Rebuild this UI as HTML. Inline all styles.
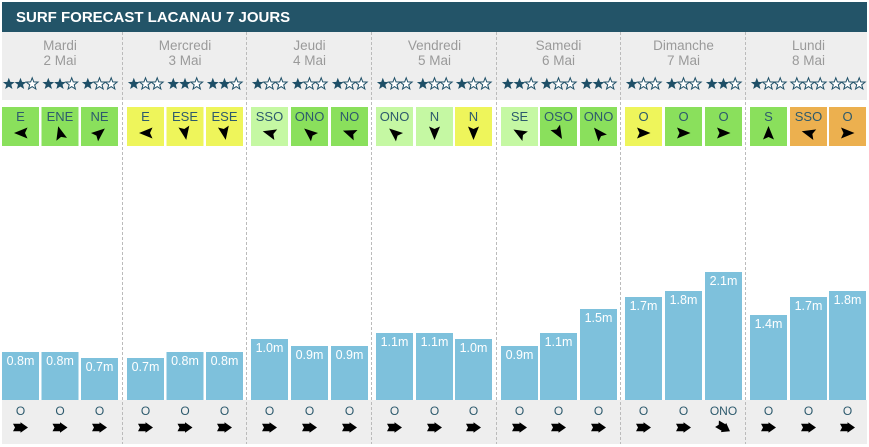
<!DOCTYPE html>
<html><head><meta charset="utf-8"><style>
html,body{margin:0;padding:0;background:#fff;}
svg{display:block;}
text{font-family:"Liberation Sans",Arial,sans-serif;}
</style></head><body>
<svg width="869" height="447" viewBox="0 0 869 447" xmlns="http://www.w3.org/2000/svg">
<defs>
<path id="st" d="M0,-6.2 L1.55,-2.1 L5.9,-1.9 L2.5,0.8 L3.65,5 L0,2.6 L-3.65,5 L-2.5,0.8 L-5.9,-1.9 L-1.55,-2.1 Z"/>
<path id="da" d="M7,0 L-6.5,-5.5 L-4,0 L-6.5,5.5 Z"/>
<path id="sa" d="M-7.5,-3.8 L0,-3.8 L0,-5.3 L7.5,0 L0,5.3 L0,3.8 L-7.5,3.8 L-5.5,0 Z"/>
<g id="f"><use href="#st" fill="#1e4f67"/></g>
<g id="e"><use href="#st" fill="#fff" stroke="#1e4f67" stroke-width="1"/></g>
</defs>
<!-- header -->
<rect x="2" y="2" width="865" height="30" fill="#235468"/>
<text x="16" y="22" font-size="15" font-weight="bold" fill="#fff">SURF FORECAST LACANAU 7 JOURS</text>
<!-- top gray band -->
<rect x="2" y="32" width="865" height="68" fill="#eeeeee"/>
<!-- bottom gray band -->
<rect x="2" y="400" width="865" height="44" fill="#eeeeee"/>

<!-- day names -->
<g font-size="13.5" fill="#9a9a9a" text-anchor="middle">
<text x="60" y="50">Mardi</text><text x="60" y="65">2 Mai</text>
<text x="185" y="50">Mercredi</text><text x="185" y="65">3 Mai</text>
<text x="309.5" y="50">Jeudi</text><text x="309.5" y="65">4 Mai</text>
<text x="434.5" y="50">Vendredi</text><text x="434.5" y="65">5 Mai</text>
<text x="558.5" y="50">Samedi</text><text x="558.5" y="65">6 Mai</text>
<text x="683.5" y="50">Dimanche</text><text x="683.5" y="65">7 Mai</text>
<text x="808.5" y="50">Lundi</text><text x="808.5" y="65">8 Mai</text>
</g>

<!-- stars -->
<g>
<use href="#f" x="8.8" y="84"/><use href="#f" x="20.5" y="84"/><use href="#e" x="32.2" y="84"/>
<use href="#f" x="48.3" y="84"/><use href="#f" x="60" y="84"/><use href="#e" x="71.7" y="84"/>
<use href="#f" x="87.8" y="84"/><use href="#e" x="99.5" y="84"/><use href="#e" x="111.2" y="84"/>
<use href="#f" x="133.8" y="84"/><use href="#e" x="145.5" y="84"/><use href="#e" x="157.2" y="84"/>
<use href="#f" x="173.3" y="84"/><use href="#f" x="185" y="84"/><use href="#e" x="196.7" y="84"/>
<use href="#f" x="212.8" y="84"/><use href="#f" x="224.5" y="84"/><use href="#e" x="236.2" y="84"/>
<use href="#f" x="257.8" y="84"/><use href="#e" x="269.5" y="84"/><use href="#e" x="281.2" y="84"/>
<use href="#f" x="297.8" y="84"/><use href="#e" x="309.5" y="84"/><use href="#e" x="321.2" y="84"/>
<use href="#f" x="337.8" y="84"/><use href="#e" x="349.5" y="84"/><use href="#e" x="361.2" y="84"/>
<use href="#f" x="382.8" y="84"/><use href="#e" x="394.5" y="84"/><use href="#e" x="406.2" y="84"/>
<use href="#f" x="422.8" y="84"/><use href="#e" x="434.5" y="84"/><use href="#e" x="446.2" y="84"/>
<use href="#f" x="461.8" y="84"/><use href="#e" x="473.5" y="84"/><use href="#e" x="485.2" y="84"/>
<use href="#f" x="507.8" y="84"/><use href="#f" x="519.5" y="84"/><use href="#e" x="531.2" y="84"/>
<use href="#f" x="546.8" y="84"/><use href="#e" x="558.5" y="84"/><use href="#e" x="570.2" y="84"/>
<use href="#f" x="586.8" y="84"/><use href="#f" x="598.5" y="84"/><use href="#e" x="610.2" y="84"/>
<use href="#f" x="631.8" y="84"/><use href="#e" x="643.5" y="84"/><use href="#e" x="655.2" y="84"/>
<use href="#f" x="671.8" y="84"/><use href="#e" x="683.5" y="84"/><use href="#e" x="695.2" y="84"/>
<use href="#f" x="711.8" y="84"/><use href="#f" x="723.5" y="84"/><use href="#e" x="735.2" y="84"/>
<use href="#f" x="756.8" y="84"/><use href="#e" x="768.5" y="84"/><use href="#e" x="780.2" y="84"/>
<use href="#e" x="796.8" y="84"/><use href="#e" x="808.5" y="84"/><use href="#e" x="820.2" y="84"/>
<use href="#e" x="835.8" y="84"/><use href="#e" x="847.5" y="84"/><use href="#e" x="859.2" y="84"/>
</g>

<!-- wind boxes -->
<g>
<rect x="2" y="107" width="37" height="39" fill="#8ae05c"/>
<rect x="41.5" y="107" width="37" height="39" fill="#8ae05c"/>
<rect x="81" y="107" width="37" height="39" fill="#8ae05c"/>
<rect x="127" y="107" width="37" height="39" fill="#eef55b"/>
<rect x="166.5" y="107" width="37" height="39" fill="#eef55b"/>
<rect x="206" y="107" width="37" height="39" fill="#eef55b"/>
<rect x="251" y="107" width="37" height="39" fill="#c5f8a3"/>
<rect x="291" y="107" width="37" height="39" fill="#8ae05c"/>
<rect x="331" y="107" width="37" height="39" fill="#8ae05c"/>
<rect x="376" y="107" width="37" height="39" fill="#c5f8a3"/>
<rect x="416" y="107" width="37" height="39" fill="#c5f8a3"/>
<rect x="455" y="107" width="37" height="39" fill="#eef55b"/>
<rect x="501" y="107" width="37" height="39" fill="#c5f8a3"/>
<rect x="540" y="107" width="37" height="39" fill="#8ae05c"/>
<rect x="580" y="107" width="37" height="39" fill="#8ae05c"/>
<rect x="625" y="107" width="37" height="39" fill="#eef55b"/>
<rect x="665" y="107" width="37" height="39" fill="#8ae05c"/>
<rect x="705" y="107" width="37" height="39" fill="#8ae05c"/>
<rect x="750" y="107" width="37" height="39" fill="#8ae05c"/>
<rect x="790" y="107" width="37" height="39" fill="#ecb04f"/>
<rect x="829" y="107" width="37" height="39" fill="#ecb04f"/>
</g>
<g font-size="13" fill="#2d5a6d" text-anchor="middle">
<text x="20.5" y="121">E</text><text x="60" y="121">ENE</text><text x="99.5" y="121">NE</text>
<text x="145.5" y="121">E</text><text x="185" y="121">ESE</text><text x="224.5" y="121">ESE</text>
<text x="269.5" y="121">SSO</text><text x="309.5" y="121">ONO</text><text x="349.5" y="121">NO</text>
<text x="394.5" y="121">ONO</text><text x="434.5" y="121">N</text><text x="473.5" y="121">N</text>
<text x="519.5" y="121">SE</text><text x="558.5" y="121">OSO</text><text x="598.5" y="121">ONO</text>
<text x="643.5" y="121">O</text><text x="683.5" y="121">O</text><text x="723.5" y="121">O</text>
<text x="768.5" y="121">S</text><text x="808.5" y="121">SSO</text><text x="847.5" y="121">O</text>
</g>
<g fill="#000">
<use href="#da" transform="translate(21,133) rotate(180)"/>
<use href="#da" transform="translate(60,133) rotate(-105)"/>
<use href="#da" transform="translate(99.5,133) rotate(-40)"/>
<use href="#da" transform="translate(146,133) rotate(180)"/>
<use href="#da" transform="translate(185,133) rotate(80)"/>
<use href="#da" transform="translate(224.5,133) rotate(80)"/>
<use href="#da" transform="translate(269.5,133) rotate(195)"/>
<use href="#da" transform="translate(309.5,133) rotate(-140)"/>
<use href="#da" transform="translate(349.5,133) rotate(200)"/>
<use href="#da" transform="translate(394.5,133) rotate(-140)"/>
<use href="#da" transform="translate(434.5,133) rotate(90)"/>
<use href="#da" transform="translate(473.5,133) rotate(90)"/>
<use href="#da" transform="translate(519.5,133) rotate(-150)"/>
<use href="#da" transform="translate(558.5,133) rotate(60)"/>
<use href="#da" transform="translate(598.5,133) rotate(-130)"/>
<use href="#da" transform="translate(643.5,133)"/>
<use href="#da" transform="translate(683.5,133)"/>
<use href="#da" transform="translate(723.5,133)"/>
<use href="#da" transform="translate(768.5,133) rotate(-90)"/>
<use href="#da" transform="translate(808.5,133) rotate(195)"/>
<use href="#da" transform="translate(847.5,133)"/>
</g>

<!-- bars -->
<g fill="#7ec1dc">
<rect x="2" y="352" width="37" height="48"/>
<rect x="41.5" y="352" width="37" height="48"/>
<rect x="81" y="358" width="37" height="42"/>
<rect x="127" y="358" width="37" height="42"/>
<rect x="166.5" y="352" width="37" height="48"/>
<rect x="206" y="352" width="37" height="48"/>
<rect x="251" y="339" width="37" height="61"/>
<rect x="291" y="346" width="37" height="54"/>
<rect x="331" y="346" width="37" height="54"/>
<rect x="376" y="333" width="37" height="67"/>
<rect x="416" y="333" width="37" height="67"/>
<rect x="455" y="339" width="37" height="61"/>
<rect x="501" y="346" width="37" height="54"/>
<rect x="540" y="333" width="37" height="67"/>
<rect x="580" y="309" width="37" height="91"/>
<rect x="625" y="297" width="37" height="103"/>
<rect x="665" y="291" width="37" height="109"/>
<rect x="705" y="272" width="37" height="128"/>
<rect x="750" y="315" width="37" height="85"/>
<rect x="790" y="297" width="37" height="103"/>
<rect x="829" y="291" width="37" height="109"/>
</g>
<g font-size="12.5" fill="#fff" text-anchor="middle">
<text x="20.5" y="365">0.8m</text><text x="60" y="365">0.8m</text><text x="99.5" y="371">0.7m</text>
<text x="145.5" y="371">0.7m</text><text x="185" y="365">0.8m</text><text x="224.5" y="365">0.8m</text>
<text x="269.5" y="352">1.0m</text><text x="309.5" y="359">0.9m</text><text x="349.5" y="359">0.9m</text>
<text x="394.5" y="346">1.1m</text><text x="434.5" y="346">1.1m</text><text x="473.5" y="352">1.0m</text>
<text x="519.5" y="359">0.9m</text><text x="558.5" y="346">1.1m</text><text x="598.5" y="322">1.5m</text>
<text x="643.5" y="310">1.7m</text><text x="683.5" y="304">1.8m</text><text x="723.5" y="285">2.1m</text>
<text x="768.5" y="328">1.4m</text><text x="808.5" y="310">1.7m</text><text x="847.5" y="304">1.8m</text>
</g>

<!-- swell -->
<g font-size="12" fill="#2d5a6d" text-anchor="middle">
<text x="20.5" y="415">O</text><text x="60" y="415">O</text><text x="99.5" y="415">O</text>
<text x="145.5" y="415">O</text><text x="185" y="415">O</text><text x="224.5" y="415">O</text>
<text x="269.5" y="415">O</text><text x="309.5" y="415">O</text><text x="349.5" y="415">O</text>
<text x="394.5" y="415">O</text><text x="434.5" y="415">O</text><text x="473.5" y="415">O</text>
<text x="519.5" y="415">O</text><text x="558.5" y="415">O</text><text x="598.5" y="415">O</text>
<text x="643.5" y="415">O</text><text x="683.5" y="415">O</text><text x="723.5" y="415">ONO</text>
<text x="768.5" y="415">O</text><text x="808.5" y="415">O</text><text x="847.5" y="415">O</text>
</g>
<g fill="#000">
<use href="#sa" transform="translate(20.5,427.5)"/><use href="#sa" transform="translate(60,427.5)"/><use href="#sa" transform="translate(99.5,427.5)"/>
<use href="#sa" transform="translate(145.5,427.5)"/><use href="#sa" transform="translate(185,427.5)"/><use href="#sa" transform="translate(224.5,427.5)"/>
<use href="#sa" transform="translate(269.5,427.5)"/><use href="#sa" transform="translate(309.5,427.5)"/><use href="#sa" transform="translate(349.5,427.5)"/>
<use href="#sa" transform="translate(394.5,427.5)"/><use href="#sa" transform="translate(434.5,427.5)"/><use href="#sa" transform="translate(473.5,427.5)"/>
<use href="#sa" transform="translate(519.5,427.5)"/><use href="#sa" transform="translate(558.5,427.5)"/><use href="#sa" transform="translate(598.5,427.5)"/>
<use href="#sa" transform="translate(643.5,427.5)"/><use href="#sa" transform="translate(683.5,427.5)"/><use href="#sa" transform="translate(723.5,427.5) rotate(30)"/>
<use href="#sa" transform="translate(768.5,427.5)"/><use href="#sa" transform="translate(808.5,427.5)"/><use href="#sa" transform="translate(847.5,427.5)"/>
</g>

<!-- separators -->
<g stroke="#bbbbbb" stroke-width="1" stroke-dasharray="3 2">
<line x1="122.5" y1="32" x2="122.5" y2="444"/>
<line x1="246.5" y1="32" x2="246.5" y2="444"/>
<line x1="371.5" y1="32" x2="371.5" y2="444"/>
<line x1="496.5" y1="32" x2="496.5" y2="444"/>
<line x1="620.5" y1="32" x2="620.5" y2="444"/>
<line x1="745.5" y1="32" x2="745.5" y2="444"/>
</g>
</svg>
</body></html>
